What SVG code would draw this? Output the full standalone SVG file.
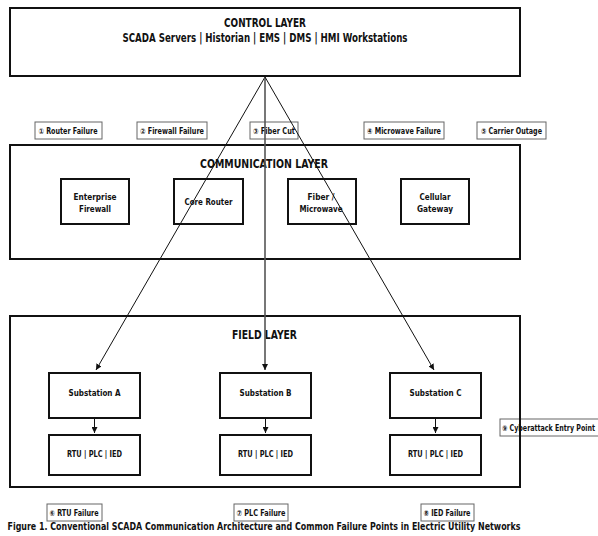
<svg xmlns="http://www.w3.org/2000/svg" width="598" height="536" viewBox="0 0 598 536">
<defs>
<style>
text{font-family:"DejaVu Sans Condensed","DejaVu Sans",sans-serif;font-weight:bold;fill:#111;text-anchor:middle}
.layer{fill:none;stroke:#111;stroke-width:2}
.node{fill:#fff;stroke:#111;stroke-width:2}
.lbl{fill:#fff;stroke:#666;stroke-width:1}
.lt{font-size:8px}
.nt{font-size:9.5px}
.ttl{font-size:12.5px}
.edge{stroke:#111;stroke-width:1;fill:none}
.mid{stroke:#555;stroke-width:1.6;fill:none}
</style>
<marker id="ah" viewBox="0 0 10 10" refX="10" refY="5" markerWidth="6" markerHeight="6" orient="auto" markerUnits="userSpaceOnUse">
<path d="M0,0 L10,5 L0,10 z" fill="#111"/>
</marker>
</defs>
<rect width="598" height="536" fill="#fff"/>

<g id="failure-labels">
<g id="f1"><rect class="lbl" x="35" y="122" width="67" height="17"/><text class="lt" x="68" y="133.5" textLength="59" lengthAdjust="spacingAndGlyphs">① Router Failure</text></g>
<g id="f2"><rect class="lbl" x="137" y="122" width="70" height="17"/><text class="lt" x="172" y="133.5" textLength="64" lengthAdjust="spacingAndGlyphs">② Firewall Failure</text></g>
<g id="f3"><rect class="lbl" x="250" y="122" width="48" height="17"/><text class="lt" x="274" y="133.5" textLength="42" lengthAdjust="spacingAndGlyphs">③ Fiber Cut</text></g>
<g id="f4"><rect class="lbl" x="364" y="122" width="80" height="17"/><text class="lt" x="404" y="133.5" textLength="74" lengthAdjust="spacingAndGlyphs">④ Microwave Failure</text></g>
<g id="f5"><rect class="lbl" x="477" y="122" width="69" height="17"/><text class="lt" x="511.5" y="133.5" textLength="61" lengthAdjust="spacingAndGlyphs">⑤ Carrier Outage</text></g>
<g id="f6"><rect class="lbl" x="47" y="504" width="55" height="17"/><text class="lt" x="74" y="515.5" textLength="49" lengthAdjust="spacingAndGlyphs">⑥ RTU Failure</text></g>
<g id="f7"><rect class="lbl" x="234" y="504" width="54" height="17"/><text class="lt" x="261" y="515.5" textLength="49" lengthAdjust="spacingAndGlyphs">⑦ PLC Failure</text></g>
<g id="f8"><rect class="lbl" x="421" y="504" width="53" height="17"/><text class="lt" x="447" y="515.5" textLength="47" lengthAdjust="spacingAndGlyphs">⑧ IED Failure</text></g>
<g id="f9"><rect class="lbl" x="500" y="419" width="102" height="17"/><text class="lt" x="548.5" y="430.5" textLength="93" lengthAdjust="spacingAndGlyphs">⑨ Cyberattack Entry Point</text></g>
</g>

<g id="control-layer">
<rect class="layer" x="10" y="8" width="510" height="68"/>
<text class="ttl" x="265" y="26.5" textLength="82" lengthAdjust="spacingAndGlyphs">CONTROL LAYER</text>
<text class="ttl" x="265" y="41.5" textLength="285" lengthAdjust="spacingAndGlyphs">SCADA Servers | Historian | EMS | DMS | HMI Workstations</text>
</g>

<g id="communication-layer">
<rect class="layer" x="10" y="145" width="510" height="114"/>
<text class="ttl" x="264" y="168" textLength="128" lengthAdjust="spacingAndGlyphs">COMMUNICATION LAYER</text>
</g>
<g id="enterprise-firewall"><rect class="node" x="61" y="179" width="68" height="45"/><text class="nt" x="95" y="199.5" textLength="43" lengthAdjust="spacingAndGlyphs">Enterprise</text><text class="nt" x="95" y="211.5" textLength="32" lengthAdjust="spacingAndGlyphs">Firewall</text></g>
<g id="core-router"><rect class="node" x="174" y="179" width="69" height="45"/><text class="nt" x="208.5" y="205" textLength="48" lengthAdjust="spacingAndGlyphs">Core Router</text></g>
<g id="fiber-microwave"><rect class="node" x="288" y="179" width="68" height="45"/><text class="nt" x="321" y="199.5" textLength="27" lengthAdjust="spacingAndGlyphs">Fiber /</text><text class="nt" x="321" y="211.5" textLength="43" lengthAdjust="spacingAndGlyphs">Microwave</text></g>
<g id="cellular-gateway"><rect class="node" x="401" y="179" width="68" height="45"/><text class="nt" x="435" y="199.5" textLength="31" lengthAdjust="spacingAndGlyphs">Cellular</text><text class="nt" x="435" y="211.5" textLength="36" lengthAdjust="spacingAndGlyphs">Gateway</text></g>

<g id="field-layer">
<rect class="layer" x="10" y="316" width="510" height="171"/>
<text class="ttl" x="264.5" y="339" textLength="65" lengthAdjust="spacingAndGlyphs">FIELD LAYER</text>
</g>
<g id="substation-a"><rect class="node" x="49" y="373" width="91" height="45"/><text class="nt" x="94.5" y="396" textLength="52" lengthAdjust="spacingAndGlyphs">Substation A</text></g>
<g id="substation-b"><rect class="node" x="220" y="373" width="91" height="45"/><text class="nt" x="265.5" y="396" textLength="52" lengthAdjust="spacingAndGlyphs">Substation B</text></g>
<g id="substation-c"><rect class="node" x="390" y="373" width="91" height="45"/><text class="nt" x="435.5" y="396" textLength="52" lengthAdjust="spacingAndGlyphs">Substation C</text></g>
<g id="rtu-a"><rect class="node" x="49" y="435" width="91" height="40"/><text class="nt" x="94.5" y="456.5" textLength="55" lengthAdjust="spacingAndGlyphs">RTU | PLC | IED</text></g>
<g id="rtu-b"><rect class="node" x="220" y="435" width="91" height="40"/><text class="nt" x="265.5" y="456.5" textLength="55" lengthAdjust="spacingAndGlyphs">RTU | PLC | IED</text></g>
<g id="rtu-c"><rect class="node" x="390" y="435" width="91" height="40"/><text class="nt" x="435.5" y="456.5" textLength="55" lengthAdjust="spacingAndGlyphs">RTU | PLC | IED</text></g>

<g id="connectors">
<line class="edge" x1="265" y1="77" x2="96" y2="370" marker-end="url(#ah)"/>
<line class="mid" x1="265" y1="77" x2="265" y2="370" marker-end="url(#ah)"/>
<line class="edge" x1="265" y1="77" x2="434" y2="370" marker-end="url(#ah)"/>
<line class="edge" x1="94.5" y1="419" x2="94.5" y2="433" marker-end="url(#ah)"/>
<line class="edge" x1="265.5" y1="419" x2="265.5" y2="433" marker-end="url(#ah)"/>
<line class="edge" x1="435.5" y1="419" x2="435.5" y2="433" marker-end="url(#ah)"/>
</g>

<text x="264" y="530" font-size="10.5" textLength="513" lengthAdjust="spacingAndGlyphs">Figure 1. Conventional SCADA Communication Architecture and Common Failure Points in Electric Utility Networks</text>
</svg>
